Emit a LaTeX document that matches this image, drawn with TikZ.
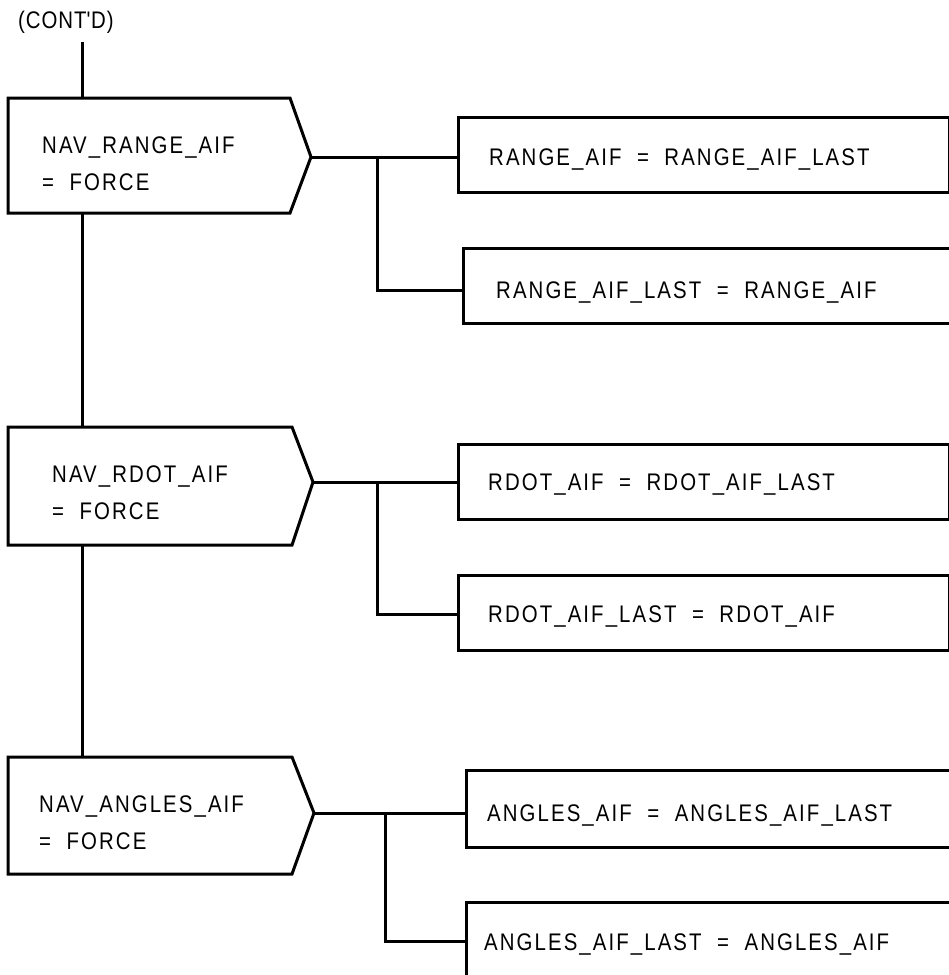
\documentclass[tikz,border=0pt]{standalone}
\usepackage{fontspec}
\setmainfont{Liberation Sans}[LetterSpace=8.7,FakeStretch=0.85]
\begin{document}
\begin{tikzpicture}[x=1pt,y=-1pt,
  lbl/.style={anchor=base west, inner sep=0pt, font=\fontsize{24}{28}\selectfont},
  shp/.style={draw=black, line width=3pt, line join=miter},
  conn/.style={draw=black, line width=3pt},
  rbox/.style={draw=black, line width=3pt, rectangle, inner sep=0pt, anchor=north west}]
\useasboundingbox (0,0) rectangle (949,975);
\clip (0,0) rectangle (949,975);

% top label
\node[lbl] (cont) at (18,28.8) {\addfontfeature{LetterSpace=4}(CONT\textquotesingle D)};
\coordinate (start) at (82,42);

% decision (pentagon) shapes
\coordinate (d1tip) at (311,157); \coordinate (d1top) at (82,98);  \coordinate (d1bot) at (82,213);
\coordinate (d2tip) at (313,482); \coordinate (d2top) at (82,427); \coordinate (d2bot) at (82,545);
\coordinate (d3tip) at (314,813); \coordinate (d3top) at (82,757);

\path[shp] (8,98) -- (290,98) -- (d1tip) -- (290,213) -- (8,213) -- cycle;
\path[shp] (8,427) -- (292,427) -- (d2tip) -- (292,545) -- (8,545) -- cycle;
\path[shp] (8,757) -- (292,757) -- (d3tip) -- (292,874) -- (8,874) -- cycle;

\node[lbl] (d1a) at (42,153) {NAV\_RANGE\_AIF};
\node[lbl] (d1b) at (42,190) {=\ \ FORCE};
\node[lbl] (d2a) at (52,482) {NAV\_RDOT\_AIF};
\node[lbl] (d2b) at (52,519) {=\ \ FORCE};
\node[lbl] (d3a) at (39,812) {NAV\_ANGLES\_AIF};
\node[lbl] (d3b) at (39,849) {=\ \ FORCE};

% action boxes
\node[rbox, minimum width=491.3pt, minimum height=74.7pt] (r1) at (456.7,116) {};
\node[rbox, minimum width=540pt,   minimum height=75pt]   (r2) at (461.7,246.7) {};
\node[rbox, minimum width=491.3pt, minimum height=75.6pt] (r3) at (456.7,442.7) {};
\node[rbox, minimum width=491.3pt, minimum height=75.3pt] (r4) at (456.7,574) {};
\node[rbox, minimum width=540pt,   minimum height=76.4pt] (r5) at (465,769.3) {};
\node[rbox, minimum width=540pt,   minimum height=120pt]  (r6) at (465,900.7) {};

\node[lbl] (t1) at (489,165.6) {RANGE\_AIF\ \ =\ \ RANGE\_AIF\_LAST};
\node[lbl] (t2) at (496,298.6) {RANGE\_AIF\_LAST\ \ =\ \ RANGE\_AIF};
\node[lbl] (t3) at (488,490.6) {RDOT\_AIF\ \ =\ \ RDOT\_AIF\_LAST};
\node[lbl] (t4) at (488,622.6) {RDOT\_AIF\_LAST\ \ =\ \ RDOT\_AIF};
\node[lbl] (t5) at (487,821.6) {ANGLES\_AIF\ \ =\ \ ANGLES\_AIF\_LAST};
\node[lbl] (t6) at (484,950.3) {ANGLES\_AIF\_LAST\ \ =\ \ ANGLES\_AIF};

% connectors
\draw[conn] (start) -- (d1top);
\draw[conn] (d1bot) -- (d2top);
\draw[conn] (d2bot) -- (d3top);

\coordinate (b1) at (377.7,157);
\coordinate (b2) at (377.7,482);
\coordinate (b3) at (385.7,813);

\draw[conn] (d1tip) -- (d1tip -| r1.west);
\draw[conn] (b1) |- (r2.west |- 0,290);
\draw[conn] (d2tip) -- (d2tip -| r3.west);
\draw[conn] (b2) |- (r4.west |- 0,614);
\draw[conn] (d3tip) -- (d3tip -| r5.west);
\draw[conn] (b3) |- (r6.west |- 0,941.7);
\end{tikzpicture}
\end{document}
